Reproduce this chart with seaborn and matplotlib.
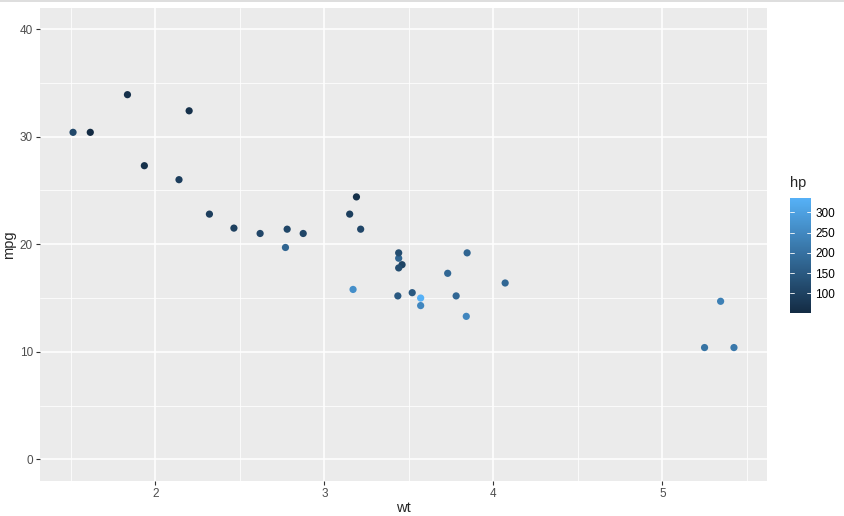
import matplotlib
matplotlib.use('Agg')
import matplotlib.pyplot as plt
import numpy as np
import pandas as pd
import seaborn as sns
from matplotlib.colors import LinearSegmentedColormap, Normalize
from matplotlib.ticker import MultipleLocator

# mtcars: weight, mileage, horsepower
wt = [2.620, 2.875, 2.320, 3.215, 3.440, 3.460, 3.570, 3.190, 3.150, 3.440, 3.440,
      4.070, 3.730, 3.780, 5.250, 5.424, 5.345, 2.200, 1.615, 1.835, 2.465, 3.520,
      3.435, 3.840, 3.845, 1.935, 2.140, 1.513, 3.170, 2.770, 3.570, 2.780]
mpg = [21.0, 21.0, 22.8, 21.4, 18.7, 18.1, 14.3, 24.4, 22.8, 19.2, 17.8,
       16.4, 17.3, 15.2, 10.4, 10.4, 14.7, 32.4, 30.4, 33.9, 21.5, 15.5,
       15.2, 13.3, 19.2, 27.3, 26.0, 30.4, 15.8, 19.7, 15.0, 21.4]
hp = [110, 110, 93, 110, 175, 105, 245, 62, 95, 123, 123,
      180, 180, 180, 205, 215, 230, 66, 52, 65, 97, 150,
      150, 245, 175, 66, 91, 113, 264, 175, 335, 109]

df = pd.DataFrame({'wt': wt, 'mpg': mpg, 'hp': hp})

sns.set_style('darkgrid', {'axes.facecolor': '#EBEBEB', 'grid.color': 'white'})
plt.rcParams['font.family'] = ['Liberation Sans', 'DejaVu Sans']

cmap = LinearSegmentedColormap.from_list('gg', ['#132B43', '#56B1F7'])
norm = Normalize(min(hp), max(hp))

fig = plt.figure(figsize=(8.44, 5.16), dpi=100)
ax = fig.add_axes([40 / 844, 35 / 516, 727 / 844, 473.5 / 516])
sns.scatterplot(data=df, x='wt', y='mpg', hue='hp', palette=cmap, hue_norm=norm,
                s=27, linewidth=0, legend=False, ax=ax, zorder=3)

xr = max(wt) - min(wt)
ax.set_xlim(min(wt) - 0.05 * xr, max(wt) + 0.05 * xr)
ax.set_ylim(-2, 42)
ax.xaxis.set_major_locator(MultipleLocator(1))
ax.yaxis.set_major_locator(MultipleLocator(10))
ax.xaxis.set_minor_locator(MultipleLocator(0.5))
ax.yaxis.set_minor_locator(MultipleLocator(5))
ax.grid(which='major', color='white', linewidth=1.1)
ax.grid(which='minor', color='white', linewidth=0.55)
for s in ax.spines.values():
    s.set_visible(False)
ax.tick_params(which='major', length=3, width=0.8, color='#333333',
               labelsize=8.5, labelcolor='#4D4D4D', pad=2, bottom=True, left=True)
ax.tick_params(which='minor', length=0)
ax.set_xlabel('wt', fontsize=10.5, labelpad=1)
ax.set_ylabel('mpg', fontsize=10.5, labelpad=3)

# colour bar legend
cax = fig.add_axes([790 / 844, (516 - 313) / 516, 21 / 844, 115 / 516])
sm = plt.cm.ScalarMappable(norm=norm, cmap=cmap)
cb = fig.colorbar(sm, cax=cax, ticks=[100, 150, 200, 250, 300])
cb.outline.set_visible(False)
cax.tick_params(length=0, labelsize=8.5, labelcolor='#000000', pad=3)
for t in [100, 150, 200, 250, 300]:
    cax.plot([0, 0.2], [t, t], color='white', lw=0.6, transform=cax.get_yaxis_transform())
    cax.plot([0.8, 1], [t, t], color='white', lw=0.6, transform=cax.get_yaxis_transform())
fig.text(790 / 844, (516 - 183) / 516, 'hp', fontsize=10.5, va='center', ha='left')

# thin border line at the very top
fig.add_artist(plt.Line2D([0, 1], [1 - 0.8 / 516, 1 - 0.8 / 516], color='#D4D4D4', lw=1.1))

fig.savefig('out.png', dpi=100)
